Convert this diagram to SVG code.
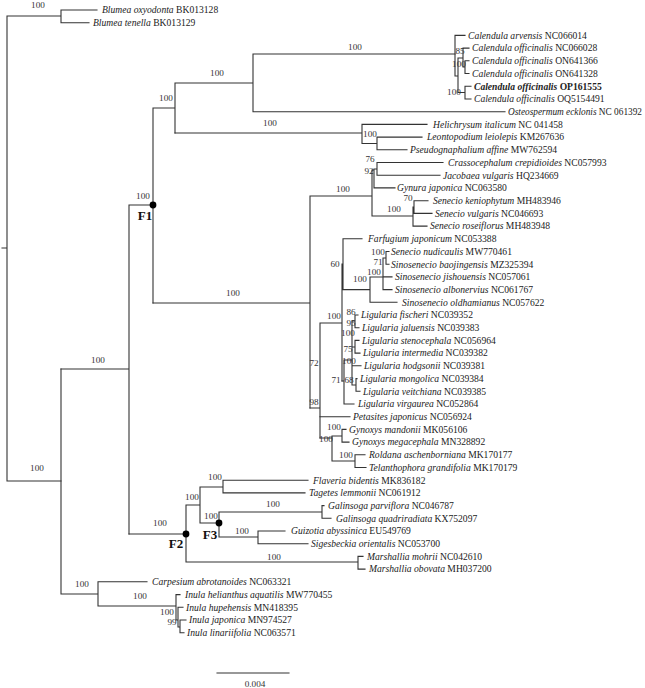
<svg xmlns="http://www.w3.org/2000/svg" width="645" height="688" viewBox="0 0 645 688">
<style>
.br{stroke:#333;stroke-width:1.1;fill:none;stroke-linecap:square}
.tx{font-family:"Liberation Serif","Times New Roman",serif;font-size:9.6px;fill:#222}
.it{font-style:italic}
.bd{font-weight:bold}
.bs{font-family:"Liberation Serif","Times New Roman",serif;font-size:9.2px;text-anchor:middle;fill:#333}
.lb{font-family:"Liberation Serif","Times New Roman",serif;font-size:13px;font-weight:bold;text-anchor:middle;fill:#111}
.dot{fill:#000}
</style>
<rect width="645" height="688" fill="#fff"/>
<g id="connectors" class="br">
<path d="M2 248H7M7 16V481M7 16H61M61 10V22.7M61 10H97M61 22.7H89M7 481H61"/>
<path d="M61 369V594M61 594H98M98 581.8V606M98 581.8H147M98 606H176M176 594.6V620M176 594.6H180M176 620H178M178 607.3V627M178 607.3H183M178 627H180M180 620V632.7M180 620H186M180 632.7H184"/>
<path d="M61 369H129M129 205V534M129 205H153M153 108V303M153 108H175M175 83V133M175 83H253M253 54V111.7M253 111.7H505M253 54H455"/>
<path d="M455 35.4V76M455 35.4H465M455 76H458M458 58V92.5M458 58H463M463 48.1V67M463 48.1H469M463 67H465M465 60.8V73.5M465 60.8H469M465 73.5H469M458 92.5H465M465 86.3V99M465 86.3H471M465 99H471"/>
<path d="M175 133H362M362 124.4V143.5M362 124.4H427M362 143.5H377M377 137.1V149.8M377 137.1H422M377 149.8H407"/>
<path d="M153 303H310M310 196V408M310 196H372M372 170V216M372 170H374M374 169V187.9M374 169H377M377 162.5V175.2M377 162.5H443M377 175.2H440M374 187.9H395M372 216H413M413 207V226.1M413 207H414M414 200.7V213.4M414 200.7H428M414 213.4H432M413 226.1H427"/>
<path d="M310 408H320M320 323V438M320 323H342M342 264V381M342 264H343M343 238.8V289.6M343 238.8H362M343 289.6H370M370 277V302.3M370 302.3H397M370 277H383M383 258V289.6M383 258H386M386 251.5V264.2M386 251.5H389M386 264.2H389M383 276.9H392M383 289.6H392"/>
<path d="M342 381H344M344 360V404M344 404H354M344 360H352M352 321V385M352 321H355M355 315V327.7M355 315H358M355 327.7H359M352 347H355M355 340.4V353.1M355 340.4H359M355 353.1H360M352 365.8H361M352 385H356M356 378.6V391.3M356 378.6H357M356 391.3H360"/>
<path d="M320 416.7H350M320 438H332M332 436V461M332 436H342M342 429.4V442.1M342 429.4H346M342 442.1H349M332 461H355M355 454.8V467.5M355 454.8H365M355 467.5H366"/>
<path d="M129 534H186M186 505V562M186 505H200M200 487V523M200 487H223M223 480.2V492.9M223 480.2H308M223 492.9H305M200 523H219M219 512V537M219 512H322M322 505.6V518.3M322 505.6H324M322 518.3H331M219 537H258M258 531V543.7M258 531H285M258 543.7H308M186 562H358M358 556.4V569.1M358 556.4H363M358 569.1H365"/>
<path d="M217 673H289"/>
</g>
<g id="node-markers">
<circle class="dot" cx="153" cy="205" r="3.4"/>
<circle class="dot" cx="186" cy="534" r="3.4"/>
<circle class="dot" cx="219" cy="523" r="3.4"/>
<text class="lb" x="145" y="219.5">F1</text>
<text class="lb" x="176" y="547.5">F2</text>
<text class="lb" x="210" y="538.5">F3</text>
</g>
<g id="bootstrap">
<text class="bs" x="38" y="8.3">100</text>
<text class="bs" x="37" y="471.3">100</text>
<text class="bs" x="98" y="363.3">100</text>
<text class="bs" x="82" y="587.3">100</text>
<text class="bs" x="140" y="599.3">100</text>
<text class="bs" x="167" y="615.3">100</text>
<text class="bs" x="172" y="625.3">99</text>
<text class="bs" x="143" y="199.3">100</text>
<text class="bs" x="166" y="101.3">100</text>
<text class="bs" x="217" y="76.3">100</text>
<text class="bs" x="270" y="126.3">100</text>
<text class="bs" x="355" y="50.3">100</text>
<text class="bs" x="233" y="296.3">100</text>
<text class="bs" x="460" y="54.3">85</text>
<text class="bs" x="459" y="67.3">100</text>
<text class="bs" x="454" y="95.3">100</text>
<text class="bs" x="370" y="137.3">100</text>
<text class="bs" x="370" y="162.3">76</text>
<text class="bs" x="369" y="174.3">92</text>
<text class="bs" x="343" y="192.3">100</text>
<text class="bs" x="408" y="200.8" font-size="8.8">70</text>
<text class="bs" x="394" y="212.3">100</text>
<text class="bs" x="335" y="267.3">60</text>
<text class="bs" x="378" y="255.3">100</text>
<text class="bs" x="378" y="265.3">71</text>
<text class="bs" x="374" y="275.3">100</text>
<text class="bs" x="360" y="282.3">100</text>
<text class="bs" x="334" y="319.3">100</text>
<text class="bs" x="351" y="315.3">86</text>
<text class="bs" x="351" y="326.3">95</text>
<text class="bs" x="348" y="336.3">100</text>
<text class="bs" x="348" y="352.3">75</text>
<text class="bs" x="349" y="364.3">100</text>
<text class="bs" x="336" y="383.3">71</text>
<text class="bs" x="349" y="383.3">68</text>
<text class="bs" x="314" y="366.3">72</text>
<text class="bs" x="314" y="405.3">98</text>
<text class="bs" x="334" y="430.3">100</text>
<text class="bs" x="326" y="442.3">100</text>
<text class="bs" x="346" y="458.3">100</text>
<text class="bs" x="215" y="480.3">100</text>
<text class="bs" x="192" y="500.3">100</text>
<text class="bs" x="160" y="526.3">100</text>
<text class="bs" x="211" y="519.3">100</text>
<text class="bs" x="273" y="507.3">100</text>
<text class="bs" x="242" y="534.3">100</text>
<text class="bs" x="274" y="560.3">100</text>
</g>
<g id="leaves">
<g id="t01"><text class="tx" x="102" y="13.3"><tspan class="it">Blumea oxyodonta</tspan> BK013128</text></g>
<g id="t02"><text class="tx" x="93" y="26"><tspan class="it">Blumea tenella</tspan> BK013129</text></g>
<g id="t03"><text class="tx" x="468" y="38.7"><tspan class="it">Calendula arvensis</tspan> NC066014</text></g>
<g id="t04"><text class="tx" x="472" y="51.4"><tspan class="it">Calendula officinalis</tspan> NC066028</text></g>
<g id="t05"><text class="tx" x="472" y="64.1"><tspan class="it">Calendula officinalis</tspan> ON641366</text></g>
<g id="t06"><text class="tx" x="472" y="76.8"><tspan class="it">Calendula officinalis</tspan> ON641328</text></g>
<g id="t07"><text class="tx bd" x="474" y="89.6"><tspan class="it">Calendula officinalis</tspan> OP161555</text></g>
<g id="t08"><text class="tx" x="474" y="102.3"><tspan class="it">Calendula officinalis</tspan> OQ5154491</text></g>
<g id="t09"><text class="tx" x="508" y="115" textLength="134" lengthAdjust="spacingAndGlyphs"><tspan class="it">Osteospermum ecklonis</tspan> NC 061392</text></g>
<g id="t10"><text class="tx" x="433" y="127.7"><tspan class="it">Helichrysum italicum</tspan> NC 041458</text></g>
<g id="t11"><text class="tx" x="427" y="140.4"><tspan class="it">Leontopodium leiolepis</tspan> KM267636</text></g>
<g id="t12"><text class="tx" x="410" y="153.1"><tspan class="it">Pseudognaphalium affine</tspan> MW762594</text></g>
<g id="t13"><text class="tx" x="448" y="165.8"><tspan class="it">Crassocephalum crepidioides</tspan> NC057993</text></g>
<g id="t14"><text class="tx" x="443" y="178.5"><tspan class="it">Jacobaea vulgaris</tspan> HQ234669</text></g>
<g id="t15"><text class="tx" x="397" y="191.2"><tspan class="it">Gynura japonica</tspan> NC063580</text></g>
<g id="t16"><text class="tx" x="433" y="204"><tspan class="it">Senecio keniophytum</tspan> MH483946</text></g>
<g id="t17"><text class="tx" x="435" y="216.7"><tspan class="it">Senecio vulgaris</tspan> NC046693</text></g>
<g id="t18"><text class="tx" x="430" y="229.4"><tspan class="it">Senecio roseiflorus</tspan> MH483948</text></g>
<g id="t19"><text class="tx" x="368" y="242.1"><tspan class="it">Farfugium japonicum</tspan> NC053388</text></g>
<g id="t20"><text class="tx" x="391" y="254.8"><tspan class="it">Senecio nudicaulis</tspan> MW770461</text></g>
<g id="t21"><text class="tx" x="391" y="267.5"><tspan class="it">Sinosenecio baojingensis</tspan> MZ325394</text></g>
<g id="t22"><text class="tx" x="395" y="280.2"><tspan class="it">Sinosenecio jishouensis</tspan> NC057061</text></g>
<g id="t23"><text class="tx" x="395" y="292.9"><tspan class="it">Sinosenecio albonervius</tspan> NC061767</text></g>
<g id="t24"><text class="tx" x="402" y="305.6"><tspan class="it">Sinosenecio oldhamianus</tspan> NC057622</text></g>
<g id="t25"><text class="tx" x="361" y="318.3"><tspan class="it">Ligularia fischeri</tspan> NC039352</text></g>
<g id="t26"><text class="tx" x="362" y="331"><tspan class="it">Ligularia jaluensis</tspan> NC039383</text></g>
<g id="t27"><text class="tx" x="362" y="343.7"><tspan class="it">Ligularia stenocephala</tspan> NC056964</text></g>
<g id="t28"><text class="tx" x="363" y="356.4"><tspan class="it">Ligularia intermedia</tspan> NC039382</text></g>
<g id="t29"><text class="tx" x="364" y="369.1"><tspan class="it">Ligularia hodgsonii</tspan> NC039381</text></g>
<g id="t30"><text class="tx" x="360" y="381.9"><tspan class="it">Ligularia mongolica</tspan> NC039384</text></g>
<g id="t31"><text class="tx" x="363" y="394.6"><tspan class="it">Ligularia veitchiana</tspan> NC039385</text></g>
<g id="t32"><text class="tx" x="358" y="407.3"><tspan class="it">Ligularia virgaurea</tspan> NC052864</text></g>
<g id="t33"><text class="tx" x="353" y="420"><tspan class="it">Petasites japonicus</tspan> NC056924</text></g>
<g id="t34"><text class="tx" x="349" y="432.7"><tspan class="it">Gynoxys mandonii</tspan> MK056106</text></g>
<g id="t35"><text class="tx" x="352" y="445.4"><tspan class="it">Gynoxys megacephala</tspan> MN328892</text></g>
<g id="t36"><text class="tx" x="369" y="458.1"><tspan class="it">Roldana aschenborniana</tspan> MK170177</text></g>
<g id="t37"><text class="tx" x="369" y="470.8"><tspan class="it">Telanthophora grandifolia</tspan> MK170179</text></g>
<g id="t38"><text class="tx" x="313" y="483.5"><tspan class="it">Flaveria bidentis</tspan> MK836182</text></g>
<g id="t39"><text class="tx" x="309" y="496.2"><tspan class="it">Tagetes lemmonii</tspan> NC061912</text></g>
<g id="t40"><text class="tx" x="328" y="508.9"><tspan class="it">Galinsoga parviflora</tspan> NC046787</text></g>
<g id="t41"><text class="tx" x="336" y="521.6"><tspan class="it">Galinsoga quadriradiata</tspan> KX752097</text></g>
<g id="t42"><text class="tx" x="291" y="534.3"><tspan class="it">Guizotia abyssinica</tspan> EU549769</text></g>
<g id="t43"><text class="tx" x="311" y="547"><tspan class="it">Sigesbeckia orientalis</tspan> NC053700</text></g>
<g id="t44"><text class="tx" x="367" y="559.7"><tspan class="it">Marshallia mohrii</tspan> NC042610</text></g>
<g id="t45"><text class="tx" x="369" y="572.4"><tspan class="it">Marshallia obovata</tspan> MH037200</text></g>
<g id="t46"><text class="tx" x="152" y="585.1"><tspan class="it">Carpesium abrotanoides</tspan> NC063321</text></g>
<g id="t47"><text class="tx" x="185" y="597.9"><tspan class="it">Inula helianthus aquatilis</tspan> MW770455</text></g>
<g id="t48"><text class="tx" x="186" y="610.6"><tspan class="it">Inula hupehensis</tspan> MN418395</text></g>
<g id="t49"><text class="tx" x="189" y="623.3"><tspan class="it">Inula japonica</tspan> MN974527</text></g>
<g id="t50"><text class="tx" x="187" y="636"><tspan class="it">Inula linariifolia</tspan> NC063571</text></g>
</g>
<g id="scale"><text class="bs" x="255" y="687">0.004</text></g>
</svg>
